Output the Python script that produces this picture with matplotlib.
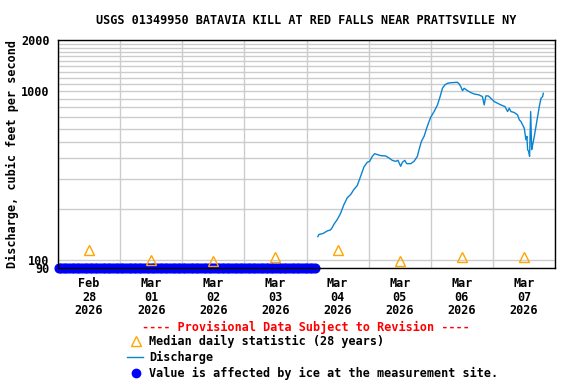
import matplotlib
matplotlib.use("Agg")
import matplotlib.pyplot as plt
from matplotlib.lines import Line2D
import numpy as np
import pandas as pd

# discharge readings (cfs)
q_times = [
    "2026-03-04 04:23", "2026-03-04 04:47", "2026-03-04 06:27", "2026-03-04 08:00",
    "2026-03-04 09:17", "2026-03-04 09:56", "2026-03-04 10:35", "2026-03-04 11:53",
    "2026-03-04 13:09", "2026-03-04 14:27", "2026-03-04 15:45", "2026-03-04 17:02",
    "2026-03-04 18:19", "2026-03-04 19:36", "2026-03-04 20:54", "2026-03-04 22:12",
    "2026-03-04 23:28", "2026-03-05 00:23", "2026-03-05 01:25", "2026-03-05 02:20",
    "2026-03-05 03:22", "2026-03-05 04:39", "2026-03-05 06:35", "2026-03-05 07:52",
    "2026-03-05 09:10", "2026-03-05 10:26", "2026-03-05 11:21", "2026-03-05 12:23",
    "2026-03-05 13:02", "2026-03-05 13:57", "2026-03-05 14:43", "2026-03-05 16:15",
    "2026-03-05 17:33", "2026-03-05 18:50", "2026-03-05 19:29", "2026-03-05 20:23",
    "2026-03-05 21:25", "2026-03-05 22:26", "2026-03-05 23:21", "2026-03-06 00:00",
    "2026-03-06 01:18", "2026-03-06 02:36", "2026-03-06 03:37", "2026-03-06 04:31",
    "2026-03-06 05:25", "2026-03-06 06:27", "2026-03-06 07:45", "2026-03-06 10:19",
    "2026-03-06 10:58", "2026-03-06 11:37", "2026-03-06 12:16", "2026-03-06 12:55",
    "2026-03-06 14:11", "2026-03-06 15:29", "2026-03-06 16:47", "2026-03-06 18:43",
    "2026-03-06 19:59", "2026-03-06 20:38", "2026-03-06 21:17", "2026-03-06 22:12",
    "2026-03-06 23:14", "2026-03-07 00:32", "2026-03-07 01:48", "2026-03-07 03:06",
    "2026-03-07 04:39", "2026-03-07 05:41", "2026-03-07 06:19", "2026-03-07 06:58",
    "2026-03-07 08:15", "2026-03-07 09:33", "2026-03-07 10:12", "2026-03-07 10:51",
    "2026-03-07 11:28", "2026-03-07 12:07", "2026-03-07 12:46", "2026-03-07 13:09",
    "2026-03-07 13:25", "2026-03-07 13:48", "2026-03-07 14:11", "2026-03-07 14:36",
    "2026-03-07 14:59", "2026-03-07 15:22", "2026-03-07 16:00", "2026-03-07 16:39",
    "2026-03-07 17:17", "2026-03-07 17:56", "2026-03-07 18:35", "2026-03-07 19:13",
    "2026-03-07 19:29",
]
q_values = [
    138, 142, 144, 149, 151, 156, 163, 174,
    189, 213, 234, 244, 262, 276, 313, 356,
    379, 384, 411, 426, 421, 415, 413, 402,
    389, 384, 389, 359, 379, 389, 372, 372,
    384, 411, 450, 503, 539, 603, 660, 700,
    756, 827, 926, 1037, 1085, 1110, 1119, 1125,
    1100, 1060, 1004, 1037, 1004, 978, 960, 947,
    926, 827, 935, 935, 905, 866, 846, 827,
    809, 756, 791, 756, 746, 722, 675, 660,
    631, 603, 515, 539, 450, 440, 411, 756,
    450, 481, 539, 617, 706, 809, 905, 926,
    969,
]

# median daily statistic (28 years), plotted at noon
median_days = ["2026-02-28", "2026-03-01", "2026-03-02", "2026-03-03",
               "2026-03-04", "2026-03-05", "2026-03-06", "2026-03-07"]
median_values = [115, 100, 99, 105, 115, 99, 105, 104]

# ice-affected period (shown along the bottom of the plot)
ice_start = "2026-02-28 00:15"
ice_end = "2026-03-04 03:45"
ice_level = 90

day_labels = ["Feb\n28\n2026", "Mar\n01\n2026", "Mar\n02\n2026", "Mar\n03\n2026",
              "Mar\n04\n2026", "Mar\n05\n2026", "Mar\n06\n2026", "Mar\n07\n2026"]

TITLE = "USGS 01349950 BATAVIA KILL AT RED FALLS NEAR PRATTSVILLE NY"
DISCHARGE_COLOR = "#0a84d0"
MEDIAN_COLOR = "#ffa500"
ICE_COLOR = "#0000ff"
GRID_COLOR = "#cccccc"

plt.rcParams["font.family"] = "DejaVu Sans Mono"
plt.rcParams["font.weight"] = "bold"
plt.rcParams["font.size"] = 8.45

W, H = 576, 384
fig = plt.figure(figsize=(W / 100, H / 100), dpi=100)
ax = fig.add_axes([58 / W, 116 / H, 497 / W, 228 / H])


def fx(px):
    return px / W


def fy(py):
    return 1 - py / H


t_q = pd.to_datetime(q_times)
t_med = pd.to_datetime(median_days) + pd.Timedelta(hours=12)
t_ice = pd.date_range(ice_start, ice_end, freq="1h")

ax.plot(t_ice, np.full(len(t_ice), ice_level), "o", color=ICE_COLOR,
        markersize=6.3, clip_on=False, zorder=2)
ax.plot(t_q, q_values, color=DISCHARGE_COLOR, lw=1.0, zorder=3)
ax.plot(t_med, median_values, "^", mfc="none", mec=MEDIAN_COLOR,
        markersize=7, mew=1.0, zorder=3)

ax.set_yscale("log")
ax.set_ylim(90, 2000)
ax.set_xlim(pd.Timestamp("2026-02-28"), pd.Timestamp("2026-03-08"))

ax.set_yticks([90, 100, 1000, 2000], ["90", "100", "1000", "2000"])
minor_y = [v for v in range(200, 2000, 100) if v != 1000]
ax.set_yticks(minor_y, [""] * len(minor_y), minor=True)

edges = pd.date_range("2026-02-28", "2026-03-08", freq="D")
ax.set_xticks(edges, [""] * len(edges))
ax.set_xticks(t_med, day_labels, minor=True)

ax.tick_params(axis="both", which="both", length=0)
ax.tick_params(axis="y", pad=6)
ax.tick_params(axis="x", which="minor", pad=6.5)
for lab in ax.get_xticklabels(minor=True):
    lab.set_linespacing(1.05)

ax.grid(True, which="both", axis="y", color=GRID_COLOR, lw=1)
ax.grid(True, which="major", axis="x", color=GRID_COLOR, lw=1)
ax.set_axisbelow(True)
for s in ax.spines.values():
    s.set_linewidth(1)
    s.set_zorder(5)

fig.text(fx(306), fy(20), TITLE, ha="center", va="center")
fig.text(fx(12), fy(154), "Discharge, cubic feet per second", rotation=90,
         ha="center", va="center")

# legend block, drawn by hand like the USGS layout
fig.text(fx(306), fy(327), "---- Provisional Data Subject to Revision ----",
         color="red", ha="center", va="center")
fig.add_artist(Line2D([fx(135.5)], [fy(341)], marker="^", mfc="none",
                      mec=MEDIAN_COLOR, markersize=7, mew=1.0, transform=fig.transFigure))
fig.text(fx(149), fy(341), "Median daily statistic (28 years)", ha="left", va="center")
fig.add_artist(Line2D([fx(127), fx(143)], [fy(356.5), fy(356.5)], color=DISCHARGE_COLOR,
                      lw=1.0, transform=fig.transFigure))
fig.text(fx(149), fy(357), "Discharge", ha="left", va="center")
fig.add_artist(Line2D([fx(135.5)], [fy(372.5)], marker="o", color=ICE_COLOR,
                      markersize=6, transform=fig.transFigure))
fig.text(fx(149), fy(373), "Value is affected by ice at the measurement site.",
         ha="left", va="center")

fig.savefig("out.png", dpi=100)
